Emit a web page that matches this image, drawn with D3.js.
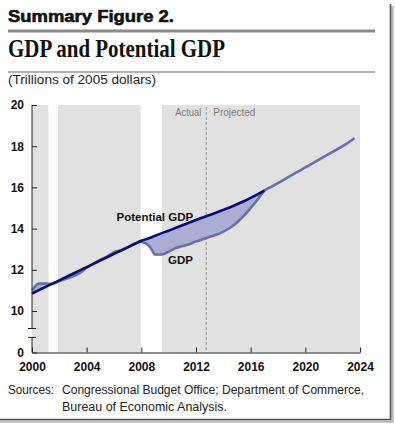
<!DOCTYPE html>
<html lang="en">
<head>
<meta charset="UTF-8">
<title>GDP and Potential GDP</title>
<script src="https://d3js.org/d3.v7.min.js"></script>
<style>
  body { margin: 0; padding: 0; background: #fff; }
  svg { display: block; font-family: "Liberation Sans", Arial, sans-serif; }
  .tick text { font-size: 12px; font-weight: bold; fill: #111; font-family: "Liberation Sans", Arial, sans-serif; }
  .tick line { stroke: #222; }
</style>
</head>
<body>
<svg width="395" height="424"></svg>
<script>
// years (quarter-ish points), potential GDP and actual/projected GDP, trillions of 2005 dollars
const years = [2000, 2000.5, 2001, 2001.5, 2002, 2002.5, 2003, 2003.5, 2004, 2004.5,
  2005, 2005.5, 2006, 2006.5, 2007, 2007.5, 2008, 2008.5, 2008.75, 2009, 2009.5,
  2010, 2010.5, 2011, 2011.5, 2012, 2012.5, 2013, 2013.5, 2014, 2014.5, 2015, 2015.5,
  2016, 2016.5, 2017, 2017.5, 2018, 2019, 2020, 2021, 2022, 2023, 2023.6];
const potential = [10.85, 11.01, 11.17, 11.33, 11.49, 11.65, 11.81, 11.97, 12.13, 12.29,
  12.45, 12.61, 12.77, 12.93, 13.09, 13.25, 13.41, 13.52, 13.58, 13.65, 13.78,
  13.9, 14.03, 14.16, 14.29, 14.42, 14.54, 14.66, 14.78, 14.91, 15.04, 15.18, 15.33,
  15.49, 15.66, 15.84, 16.02, 16.21, 16.59, 16.97, 17.35, 17.73, 18.11, 18.4];
const gdp = [11.0, 11.33, 11.33, 11.32, 11.45, 11.56, 11.68, 11.85, 12.1, 12.3,
  12.48, 12.65, 12.86, 12.95, 13.1, 13.28, 13.35, 13.2, 12.99, 12.74, 12.74,
  12.88, 13.05, 13.15, 13.24, 13.38, 13.48, 13.6, 13.7, 13.85, 14.04, 14.3, 14.62,
  15.0, 15.4, 15.84, 16.02, 16.21, 16.59, 16.97, 17.35, 17.73, 18.11, 18.4];
// recessions (white gaps in the shading)
const recessions = [[2001.2, 2001.9], [2007.95, 2009.5]];
const projectionStart = 2012.75;
const xTicks = [2000, 2004, 2008, 2012, 2016, 2020, 2024];
const yTicks = [0, 10, 12, 14, 16, 18, 20];

const svg = d3.select("svg");
const x = d3.scaleLinear().domain([2000, 2024]).range([32, 360]);
// broken axis: 0 sits just under the break, 9..20 on the real scale
const y = d3.scaleLinear().domain([0, 9, 20]).range([352.5, 331.6, 105]);

// frame with shadow
svg.append("path").attr("d", "M392.5,6V421.5H-5").attr("fill", "none")
  .attr("stroke", "#bbb").attr("stroke-width", 2.5);
svg.append("path").attr("d", "M390.5,4V419.5H-5").attr("fill", "none")
  .attr("stroke", "#555").attr("stroke-width", 1.6);

// headings
svg.append("text").attr("x", 8).attr("y", 22).text("Summary Figure 2.")
  .attr("font-size", 16.5).attr("font-weight", "bold").attr("fill", "#111")
  .attr("stroke", "#111").attr("stroke-width", 0.6)
  .attr("textLength", 166).attr("lengthAdjust", "spacingAndGlyphs");
svg.append("line").attr("x1", 8).attr("x2", 375).attr("y1", 31).attr("y2", 31)
  .attr("stroke", "#8a8a8a").attr("stroke-width", 3);
svg.append("text").attr("x", 8).attr("y", 56.5).text("GDP and Potential GDP")
  .attr("font-family", "'Liberation Serif', 'Times New Roman', serif")
  .attr("font-size", 25).attr("font-weight", "bold").attr("fill", "#111")
  .attr("textLength", 217).attr("lengthAdjust", "spacingAndGlyphs");
svg.append("line").attr("x1", 8).attr("x2", 375).attr("y1", 72).attr("y2", 72)
  .attr("stroke", "#666").attr("stroke-width", 1.2);
svg.append("text").attr("x", 8).attr("y", 83.5).text("(Trillions of 2005 dollars)")
  .attr("font-size", 12.5).attr("fill", "#222")
  .attr("textLength", 148).attr("lengthAdjust", "spacingAndGlyphs");

// shading
svg.append("rect").attr("x", x(2000)).attr("y", y(20))
  .attr("width", x(2024) - x(2000)).attr("height", y(0) - y(20)).attr("fill", "#e1e1e1");
svg.selectAll("rect.rec").data(recessions).join("rect").attr("class", "rec")
  .attr("x", d => x(d[0])).attr("y", y(20))
  .attr("width", d => x(d[1]) - x(d[0])).attr("height", y(0) - y(20)).attr("fill", "#fff");

// actual / projected divider
svg.append("line").attr("x1", x(projectionStart)).attr("x2", x(projectionStart))
  .attr("y1", y(20) + 2).attr("y2", y(0))
  .attr("stroke", "#999").attr("stroke-width", 1).attr("stroke-dasharray", "3,2");
svg.append("text").attr("x", x(projectionStart) - 5).attr("y", 116).text("Actual")
  .attr("text-anchor", "end").attr("font-size", 11).attr("fill", "#7a7a7a")
  .attr("textLength", 26).attr("lengthAdjust", "spacingAndGlyphs");
svg.append("text").attr("x", x(projectionStart) + 7).attr("y", 116).text("Projected")
  .attr("font-size", 11).attr("fill", "#7a7a7a")
  .attr("textLength", 42).attr("lengthAdjust", "spacingAndGlyphs");

// data
const pts = years.map((yr, i) => ({ yr, p: potential[i], g: gdp[i] }));
svg.append("path").datum(pts)
  .attr("d", d3.area().x(d => x(d.yr)).y0(d => y(d.p)).y1(d => y(d.g)).curve(d3.curveMonotoneX))
  .attr("fill", "#abaed3");
svg.append("path").datum(pts)
  .attr("d", d3.line().x(d => x(d.yr)).y(d => y(d.g)).curve(d3.curveMonotoneX))
  .attr("fill", "none").attr("stroke", "#6a6eab").attr("stroke-width", 2.6);
svg.append("path").datum(pts.filter(d => d.yr <= 2017))
  .attr("d", d3.line().x(d => x(d.yr)).y(d => y(d.p)).curve(d3.curveMonotoneX))
  .attr("fill", "none").attr("stroke", "#0b0b70").attr("stroke-width", 2.6);

svg.append("text").attr("x", 116.5).attr("y", 221).text("Potential GDP")
  .attr("font-size", 11.5).attr("font-weight", "bold").attr("fill", "#111");
svg.append("text").attr("x", 168).attr("y", 264).text("GDP")
  .attr("font-size", 11.5).attr("font-weight", "bold").attr("fill", "#111");

// axes
const yAxis = svg.append("g").attr("transform", `translate(${x(2000)},0)`)
  .call(d3.axisLeft(y).tickValues(yTicks).tickSize(-5).tickPadding(8).tickFormat(d3.format("d")));
yAxis.select(".domain").remove();
const breakTop = 9.15, breakBottom = 6.5;
const ax = yAxis.append("g").attr("stroke", "#222").attr("stroke-width", 1);
ax.append("line").attr("x1", 0).attr("x2", 0).attr("y1", y(20)).attr("y2", y(breakTop));
ax.append("line").attr("x1", 0).attr("x2", 0).attr("y1", y(breakBottom)).attr("y2", y(0));
ax.append("line").attr("x1", -4).attr("x2", 4).attr("y1", y(breakTop)).attr("y2", y(breakTop));
ax.append("line").attr("x1", -4).attr("x2", 4).attr("y1", y(breakBottom)).attr("y2", y(breakBottom));

const xAxis = svg.append("g").attr("transform", `translate(0,${y(0)})`)
  .call(d3.axisBottom(x).tickValues(xTicks).tickSizeInner(-5).tickSizeOuter(0)
    .tickPadding(10).tickFormat(d3.format("d")));
xAxis.select(".domain").attr("stroke", "#222");

// source note
svg.append("text").attr("x", 8).attr("y", 394).text("Sources:")
  .attr("font-size", 12.5).attr("fill", "#222")
  .attr("textLength", 46).attr("lengthAdjust", "spacingAndGlyphs");
svg.append("text").attr("x", 62).attr("y", 394)
  .text("Congressional Budget Office; Department of Commerce,")
  .attr("font-size", 12.5).attr("fill", "#222")
  .attr("textLength", 302).attr("lengthAdjust", "spacingAndGlyphs");
svg.append("text").attr("x", 62).attr("y", 410.5).text("Bureau of Economic Analysis.")
  .attr("font-size", 12.5).attr("fill", "#222")
  .attr("textLength", 165).attr("lengthAdjust", "spacingAndGlyphs");
</script>
</body>
</html>
